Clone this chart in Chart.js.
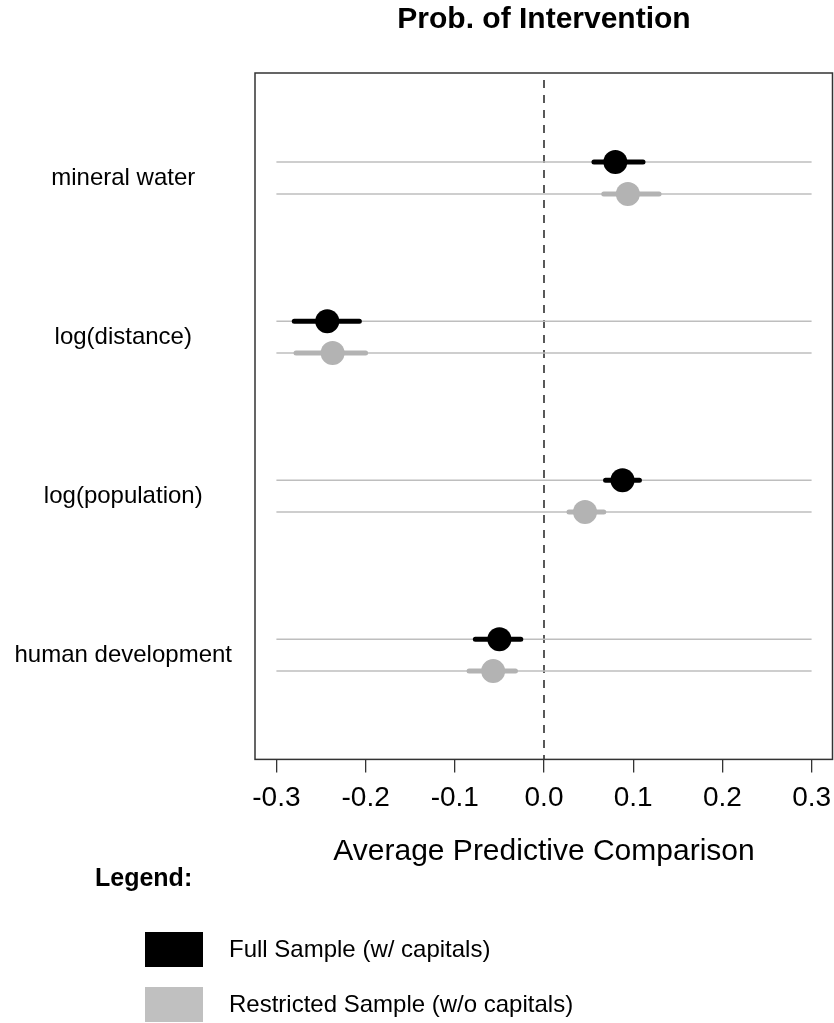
<!DOCTYPE html>
<html>
<head>
<meta charset="utf-8">
<script src="https://cdn.jsdelivr.net/npm/chart.js@4"></script>
<style>
  html, body { margin: 0; padding: 0; background: #fff; }
  #wrap { width: 834px; height: 1023px; position: relative; }
</style>
</head>
<body>
<div id="wrap"><canvas id="chart"></canvas></div>
<script>
// categories top to bottom
const categories = ["mineral water", "log(distance)", "log(population)", "human development"]

// Full Sample (w/ capitals)
const fullEst = [0.080, -0.243, 0.088, -0.050]
const fullLo = [0.056, -0.280, 0.069, -0.077]
const fullHi = [0.111, -0.207, 0.107, -0.026]

// Restricted Sample (w/o capitals)
const restEst = [0.094, -0.237, 0.046, -0.057]
const restLo = [0.067, -0.278, 0.028, -0.084]
const restHi = [0.129, -0.200, 0.067, -0.032]

const seriesNames = ["Full Sample (w/ capitals)", "Restricted Sample (w/o capitals)"]
const xTicks = [-0.3, -0.2, -0.1, 0.0, 0.1, 0.2, 0.3]
const xTickLabels = ["-0.3", "-0.2", "-0.1", "0.0", "0.1", "0.2", "0.3"]

const colors = ["#000000", "#b3b3b3"]
const legendColors = ["#000000", "#c0c0c0"]
const rowOffset = [0, 0.2]

function rowY(i, s) { return i + 1 + rowOffset[s] }

// guide lines across the full tick range for each row
const guideData = []
categories.forEach((c, i) => {
  [0, 1].forEach(s => {
    guideData.push({ x: xTicks[0], y: rowY(i, s) })
    guideData.push({ x: xTicks[xTicks.length - 1], y: rowY(i, s) })
    guideData.push({ x: null, y: null })
  })
})

function intervals(lo, hi, s) {
  const out = []
  lo.forEach((v, i) => {
    out.push({ x: v, y: rowY(i, s) })
    out.push({ x: hi[i], y: rowY(i, s) })
    out.push({ x: null, y: null })
  })
  return out
}

function points(est, s) {
  return est.map((v, i) => ({ x: v, y: rowY(i, s) }))
}

const boxAndZero = {
  id: "boxAndZero",
  beforeDatasetsDraw(chart) {
    const { ctx, chartArea } = chart
    const x0 = chart.scales.x.getPixelForValue(0)
    ctx.save()
    ctx.strokeStyle = "#000"
    ctx.lineWidth = 1.3
    ctx.setLineDash([8, 7])
    ctx.beginPath()
    ctx.moveTo(x0, chartArea.top + 7)
    ctx.lineTo(x0, chartArea.bottom)
    ctx.stroke()
    ctx.restore()
  },
  afterDraw(chart) {
    const { ctx, chartArea } = chart
    ctx.save()
    ctx.strokeStyle = "#333"
    ctx.lineWidth = 1.5
    ctx.strokeRect(chartArea.left, chartArea.top, chartArea.right - chartArea.left - 0.5, chartArea.bottom - chartArea.top)
    ctx.restore()
  }
}

const customLegend = {
  id: "customLegend",
  afterDraw(chart) {
    const { ctx } = chart
    ctx.save()
    ctx.fillStyle = "#000"
    ctx.textBaseline = "middle"
    ctx.textAlign = "left"
    ctx.font = "bold 25px 'Liberation Sans', Arial, sans-serif"
    ctx.fillText("Legend:", 95, 879)
    ctx.font = "24px 'Liberation Sans', Arial, sans-serif"
    seriesNames.forEach((name, s) => {
      const top = 932 + s * 55
      ctx.fillStyle = legendColors[s]
      ctx.fillRect(145, top, 58, 35)
      ctx.fillStyle = "#000"
      ctx.fillText(name, 229, top + 18)
    })
    ctx.restore()
  }
}

const ctx = document.getElementById("chart").getContext("2d")
new Chart(ctx, {
  type: "scatter",
  data: {
    datasets: [
      {
        label: "guides",
        data: guideData,
        showLine: true,
        spanGaps: false,
        borderColor: "#bebebe",
        borderWidth: 1.5,
        pointRadius: 0,
        order: 5
      },
      {
        label: seriesNames[0] + " CI",
        data: intervals(fullLo, fullHi, 0),
        showLine: true,
        spanGaps: false,
        borderColor: colors[0],
        borderWidth: 5,
        borderCapStyle: "round",
        pointRadius: 0,
        order: 4
      },
      {
        label: seriesNames[1] + " CI",
        data: intervals(restLo, restHi, 1),
        showLine: true,
        spanGaps: false,
        borderColor: colors[1],
        borderWidth: 5,
        borderCapStyle: "round",
        pointRadius: 0,
        order: 3
      },
      {
        label: seriesNames[0],
        data: points(fullEst, 0),
        backgroundColor: colors[0],
        borderWidth: 0,
        pointRadius: 12,
        order: 2
      },
      {
        label: seriesNames[1],
        data: points(restEst, 1),
        backgroundColor: colors[1],
        borderWidth: 0,
        pointRadius: 12,
        order: 1
      }
    ]
  },
  options: {
    responsive: true,
    maintainAspectRatio: false,
    animation: false,
    layout: { autoPadding: false, padding: { left: 0, right: 1, top: 0, bottom: 149 } },
    plugins: {
      legend: { display: false },
      tooltip: { enabled: false },
      title: {
        display: true,
        text: "Prob. of Intervention",
        fullSize: false,
        color: "#000",
        font: { family: "'Liberation Sans', Arial, sans-serif", size: 30, weight: "bold" },
        padding: { top: 2, bottom: 35 }
      }
    },
    scales: {
      x: {
        type: "linear",
        min: -0.324,
        max: 0.324,
        afterBuildTicks(scale) {
          scale.ticks = xTicks.map(v => ({ value: v }))
        },
        afterFit(scale) {
          scale.paddingLeft = 0
          scale.paddingRight = 0
        },
        ticks: {
          autoSkip: false,
          maxRotation: 0,
          color: "#000",
          padding: 9,
          font: { family: "'Liberation Sans', Arial, sans-serif", size: 28 },
          callback: (v, i) => xTickLabels[i]
        },
        grid: {
          display: true,
          drawOnChartArea: false,
          drawTicks: true,
          tickLength: 13,
          color: "#333",
          lineWidth: 1.3
        },
        border: { display: false },
        title: {
          display: true,
          text: "Average Predictive Comparison",
          color: "#000",
          font: { family: "'Liberation Sans', Arial, sans-serif", size: 30 },
          padding: { top: 10, bottom: 4 }
        }
      },
      y: {
        type: "linear",
        reverse: true,
        min: 0.44,
        max: 4.755,
        afterBuildTicks(scale) {
          scale.ticks = categories.map((c, i) => ({ value: i + 1 + rowOffset[1] / 2 }))
        },
        afterFit(scale) {
          scale.width = 255
        },
        ticks: {
          autoSkip: false,
          crossAlign: "center",
          padding: 15,
          color: "#000",
          font: { family: "'Liberation Sans', Arial, sans-serif", size: 24 },
          callback: (v, i) => categories[i]
        },
        grid: { display: false },
        border: { display: false }
      }
    }
  },
  plugins: [boxAndZero, customLegend]
})
</script>
</body>
</html>
